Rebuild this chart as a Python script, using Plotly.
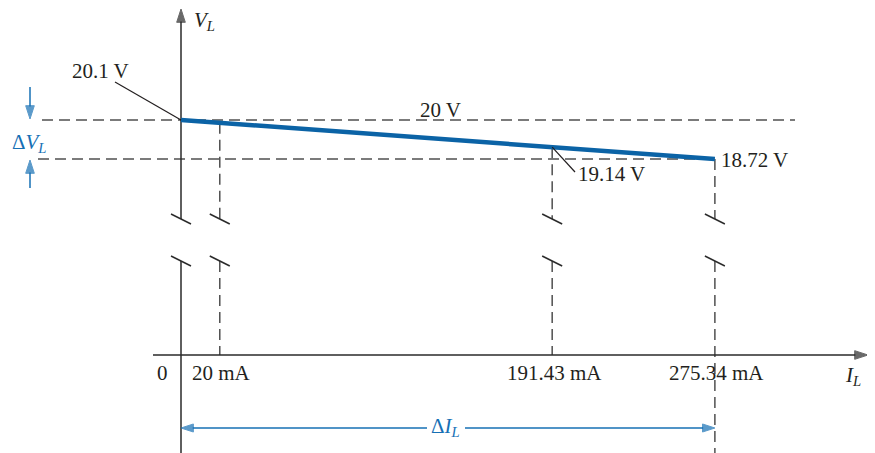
import plotly.graph_objects as go

# ---- data ----
I_mA = [0, 20, 191.43, 275.34]          # load current, mA
V_L = [20.1, 20.0, 19.14, 18.72]        # load voltage, V
x_tick_labels = ["0", "20 mA", "191.43 mA", "275.34 mA"]
v_labels = ["20.1 V", "20 V", "19.14 V", "18.72 V"]

# ---- layout constants (pixel geometry of the drawing, page coordinates) ----
PAGE_W, PAGE_H = 875, 453
OFF = 8                          # default page body margin
W, H = PAGE_W - OFF, PAGE_H - OFF
X0_PX, X_SCALE = 181, 1.939      # page px of I=0, px per mA
V_TOP_PX, V_SCALE = 120, 28.26   # page px of V_L[0], px per volt
AX_PX = 355                      # page px of the (broken) I axis, V=0

def xd(px):
    return (px - X0_PX) / X_SCALE

def yv(py):
    return V_L[0] + (V_TOP_PX - py) / V_SCALE

def y2(py):
    return (AX_PX - py) / V_SCALE

TXT = "#231f20"
AXC = "#2a2a2a"
DASHC = "#505050"
BLUE_LINE = "#0b63a6"
BLUE = "#1670b5"
FONT = "Liberation Serif"
DASH = "11px,6px"

fig = go.Figure()

def seg(x, y, color, width, dash=None, axis="y", head=False, head_size=14):
    kw = dict(mode="lines")
    if head:
        kw = dict(mode="lines+markers",
                  marker=dict(symbol="arrow", size=[0] * (len(x) - 1) + [head_size],
                              angleref="previous", color=color,
                              line=dict(width=1, color=color)))
    fig.add_trace(go.Scatter(x=x, y=y, yaxis=axis,
                             line=dict(color=color, width=width, dash=dash),
                             hoverinfo="skip", showlegend=False, **kw))

# horizontal dashed reference lines
seg([xd(42), xd(795)], [V_L[0], V_L[0]], DASHC, 1.5, DASH)
seg([xd(38), I_mA[-1]], [V_L[-1], V_L[-1]], DASHC, 1.5, DASH)

# vertical dashed lines (upper and lower part of the broken axis)
BRK_UP, BRK_LO = 219, 261
for i in range(1, len(I_mA)):
    seg([I_mA[i], I_mA[i]], [V_L[i], yv(BRK_UP)], DASHC, 1.5, DASH)
    bottom = y2(PAGE_H + 5) if i == len(I_mA) - 1 else 0
    seg([I_mA[i], I_mA[i]], [y2(BRK_LO), bottom], DASHC, 1.5, DASH, "y2")

# V axis (upper part with arrow, lower part plain)
seg([0, 0], [yv(BRK_UP), yv(9)], AXC, 1.5, head=True)
seg([0, 0], [y2(BRK_LO), y2(PAGE_H + 5)], AXC, 1.5, None, "y2")
# I axis with arrow
seg([xd(153), xd(868)], [0, 0], AXC, 1.5, None, "y2", head=True)

# break marks
dx = 10 / X_SCALE
for xi in I_mA:
    seg([xi - dx, xi + dx], [yv(BRK_UP - 5), yv(BRK_UP + 5)], AXC, 1.5)
    seg([xi - dx, xi + dx], [y2(BRK_LO - 5), y2(BRK_LO + 5)], AXC, 1.5, None, "y2")

# characteristic line
seg(I_mA, V_L, BLUE_LINE, 4.5)

# leader lines
seg([xd(115), I_mA[0]], [yv(82), V_L[0]], TXT, 1.2)
seg([I_mA[2], xd(575)], [V_L[2], yv(172)], TXT, 1.2)

# delta V_L arrows
seg([xd(30), xd(30)], [yv(87), yv(119)], BLUE, 1.5, head=True)
seg([xd(30), xd(30)], [yv(188), yv(160)], BLUE, 1.5, head=True)
# delta I_L arrows
seg([xd(427), I_mA[0]], [y2(428), y2(428)], BLUE, 1.3, None, "y2", head=True, head_size=13)
seg([xd(465), I_mA[-1]], [y2(428), y2(428)], BLUE, 1.3, None, "y2", head=True, head_size=13)

ann = []

def label(x, y, text, yref="y", color=TXT, size=21, xanchor="center"):
    ann.append(dict(x=x, y=y, xref="x", yref=yref, text=text, showarrow=False,
                    xanchor=xanchor, yanchor="middle",
                    font=dict(family=FONT, size=size, color=color)))

# axis titles
label(xd(204), yv(21), "<i>V</i><sub><i>L</i></sub>")
label(xd(853), y2(376), "<i>I</i><sub><i>L</i></sub>", "y2")

# tick labels on I axis
label(xd(170), y2(373), x_tick_labels[0], "y2", xanchor="right")
for i in range(1, len(I_mA)):
    label(I_mA[i] + 1, y2(373), x_tick_labels[i], "y2")

# voltage labels
label(xd(100), yv(71), v_labels[0])
label(xd(440), yv(110), v_labels[1])
label(xd(576), yv(174), v_labels[2], xanchor="left")
label(xd(719), yv(160), v_labels[3], xanchor="left")

# delta labels
label(xd(29), yv(143), "Δ<i>V</i><sub><i>L</i></sub>", color=BLUE)
label(xd(445), y2(427), "Δ<i>I</i><sub><i>L</i></sub>", "y2", color=BLUE)

fig.update_layout(
    width=W, height=H,
    margin=dict(l=0, r=0, t=0, b=0),
    paper_bgcolor="white", plot_bgcolor="white",
    xaxis=dict(range=[xd(OFF), xd(PAGE_W)], visible=False, fixedrange=True),
    yaxis=dict(range=[yv(PAGE_H), yv(OFF)], visible=False, domain=[0, 1]),
    yaxis2=dict(range=[y2(PAGE_H), y2(OFF)], visible=False, overlaying="y", domain=[0, 1]),
    annotations=ann,
    showlegend=False,
)

fig.write_html("out.html")
